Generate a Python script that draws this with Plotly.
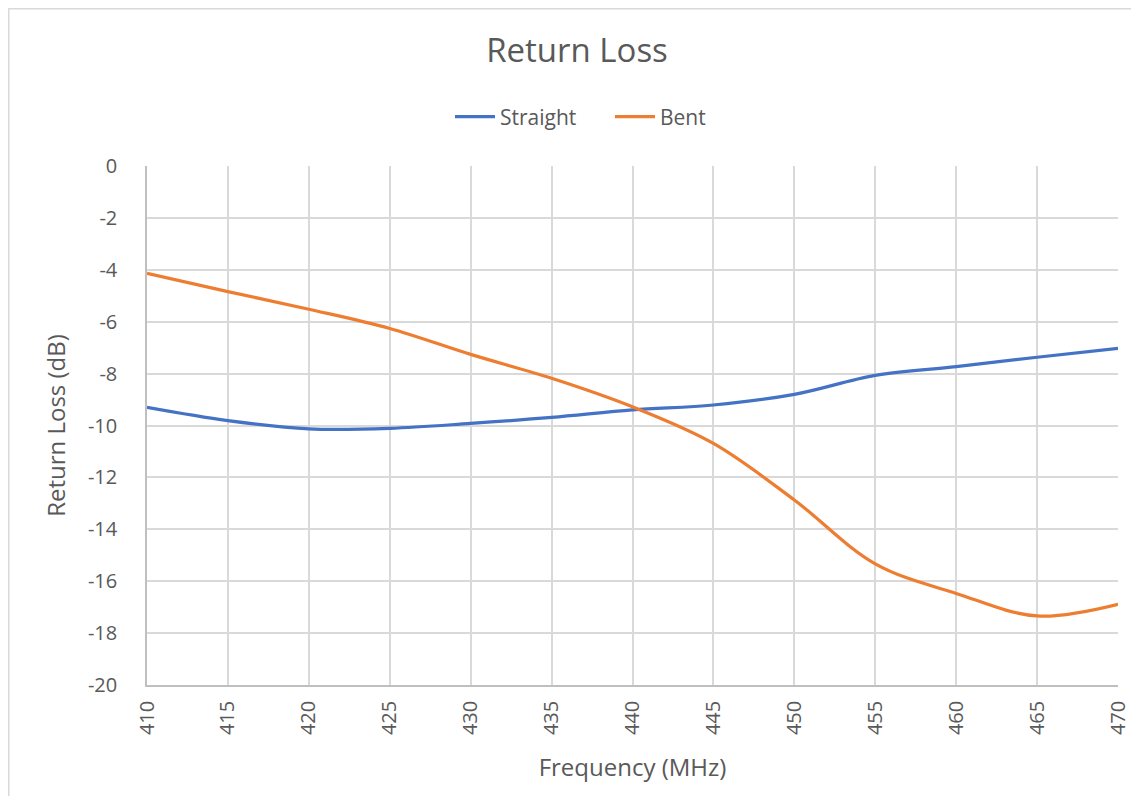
import plotly.graph_objects as go

freq = [410, 415, 420, 425, 430, 435, 440, 445, 450, 455, 460, 465, 470]
straight = [-9.30, -9.81, -10.13, -10.11, -9.92, -9.69, -9.40, -9.21, -8.80, -8.07, -7.73, -7.37, -7.03]
bent = [-4.14, -4.84, -5.52, -6.26, -7.26, -8.18, -9.28, -10.69, -12.87, -15.33, -16.47, -17.34, -16.89]
y_ticks = list(range(-20, 1, 2))
x_ticks = list(range(410, 471, 5))

OFF = 8  # page body margin
W, H = 1139 - OFF, 796 - OFF
L, R, T, B = 147 - OFF, 21, 166 - OFF, 111
pw, ph = W - L - R, H - T - B

def px(x):
    return (x - OFF - L) / pw

def py(y):
    return (H - B - (y - OFF)) / ph

font = "Open Sans"
grey = "#595959"

fig = go.Figure()
fig.add_trace(go.Scatter(x=freq, y=straight, name="Straight", mode="lines",
                         line=dict(color="#4472C4", width=3.2, shape="spline", smoothing=1.0)))
fig.add_trace(go.Scatter(x=freq, y=bent, name="Bent", mode="lines",
                         line=dict(color="#ED7D31", width=3.2, shape="spline", smoothing=1.0)))

fig.update_layout(
    width=W, height=H,
    margin=dict(l=L, r=R, t=T, b=B, autoexpand=False),
    paper_bgcolor="white", plot_bgcolor="white",
    font=dict(family=font, color=grey),
    title=dict(text="Return Loss", x=(577 - OFF) / W, xref="container", xanchor="center",
               y=1 - (50 - OFF) / H, yref="container", yanchor="middle",
               font=dict(size=33, color=grey, family=font)),
    legend=dict(orientation="h", x=px(450), xanchor="left", y=py(117), yanchor="middle",
                font=dict(size=21, color=grey), itemwidth=40, bgcolor="rgba(0,0,0,0)",
                entrywidth=105),
    shapes=[dict(type="rect", xref="paper", yref="paper",
                 x0=px(8.75), x1=px(1160), y0=py(8.75), y1=py(820),
                 line=dict(color="#d9d9d9", width=1.5), layer="below")],
)

fig.update_xaxes(range=[410, 470], tickvals=x_ticks, ticktext=[str(v) for v in x_ticks],
                 tickangle=-90, tickfont=dict(size=20, color=grey),
                 showgrid=True, gridcolor="#d9d9d9", gridwidth=1.5,
                 showline=True, linecolor="#bfbfbf", linewidth=1.5,
                 zeroline=False, ticks="", ticklabelstandoff=6,
                 title=dict(text="Frequency (MHz)", font=dict(size=24, color=grey), standoff=25))
fig.update_yaxes(range=[-20, 0], tickvals=y_ticks, ticktext=[str(v) for v in y_ticks],
                 tickfont=dict(size=20, color=grey),
                 showgrid=True, gridcolor="#d9d9d9", gridwidth=1.5,
                 showline=True, linecolor="#bfbfbf", linewidth=1.5,
                 zeroline=False, ticks="", ticklabelstandoff=24,
                 title=dict(text="Return Loss (dB)", font=dict(size=24, color=grey), standoff=16))

fig.write_html("out.html")
